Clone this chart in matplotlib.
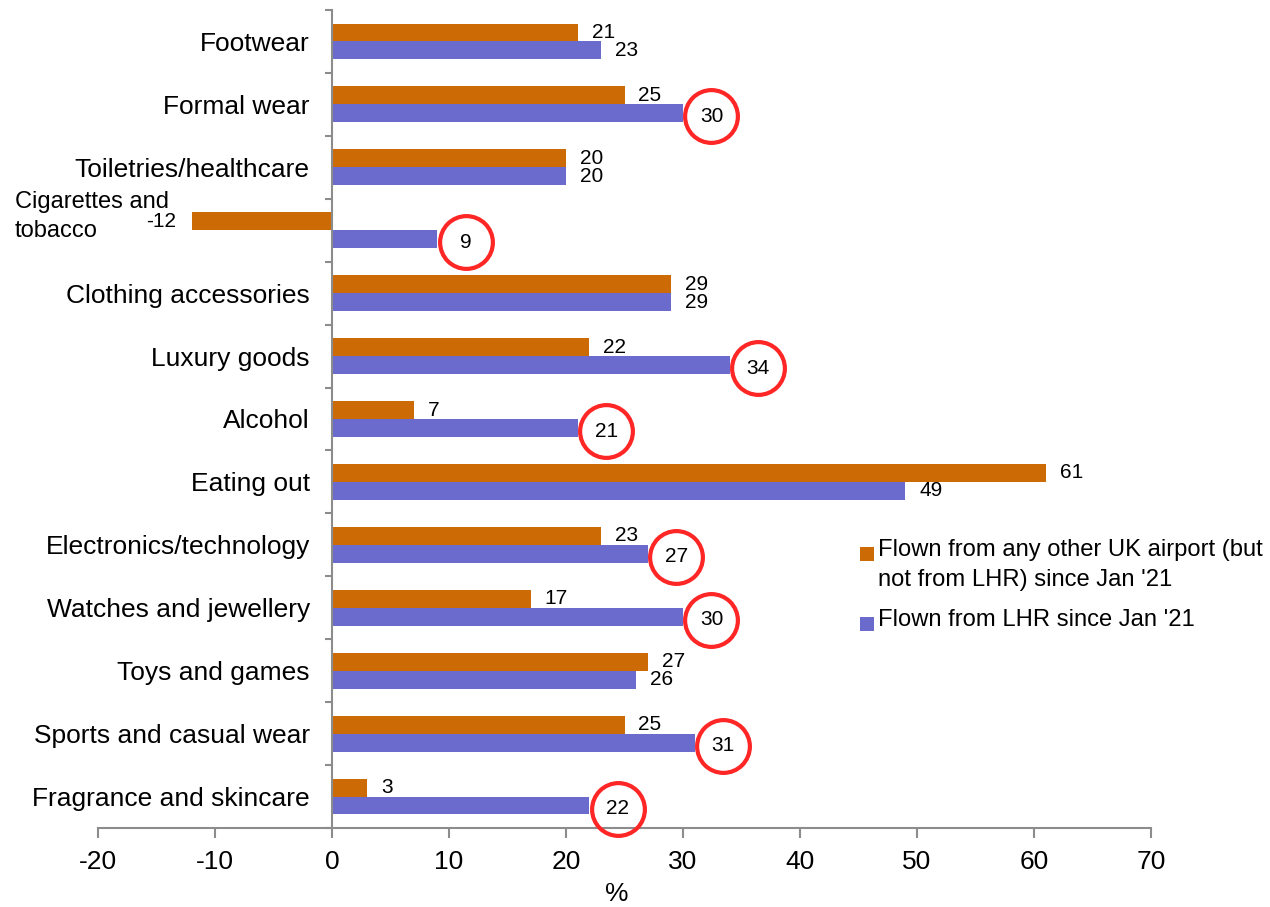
import matplotlib.pyplot as plt
import matplotlib.transforms as mtransforms
from matplotlib.patches import Rectangle
import numpy as np

plt.rcParams['font.family'] = ['Liberation Sans', 'DejaVu Sans']

################################################## Data
categories = [
    "Footwear",
    "Formal wear",
    "Toiletries/healthcare",
    "Cigarettes and\ntobacco",
    "Clothing accessories",
    "Luxury goods",
    "Alcohol",
    "Eating out",
    "Electronics/technology",
    "Watches and jewellery",
    "Toys and games",
    "Sports and casual wear",
    "Fragrance and skincare",
]
other_uk = [21, 25, 20, -12, 29, 22, 7, 61, 23, 17, 27, 25, 3]
lhr = [23, 30, 20, 9, 29, 34, 21, 49, 27, 30, 26, 31, 22]
# LHR values highlighted with a red circle
circled = [False, True, False, True, False, True, True, False, True, True, False, True, True]

label_other = "Flown from any other UK airport (but\nnot from LHR) since Jan '21"
label_lhr = "Flown from LHR since Jan '21"

x_ticks = [-20, -10, 0, 10, 20, 30, 40, 50, 60, 70]

################################################## Style
orange = "#CC6A06"
purple = "#6B6BCD"
red = "#FF2626"
grey = "#8C8C8C"
bar_h = 0.285
val_size = 15

fig = plt.figure(figsize=(12.7, 9.07), dpi=100)
ax = fig.add_axes([0.0772, 0.0871, 0.8291, 0.9019])

y = np.arange(len(categories))
ax.barh(y - bar_h / 2, other_uk, height=bar_h, color=orange, label=label_other)
ax.barh(y + bar_h / 2, lhr, height=bar_h, color=purple, label=label_lhr)

ax.set_xlim(-20, 70)
ax.set_ylim(len(categories) - 0.5, -0.5)

# Data labels
for i, v in enumerate(other_uk):
    if v < 0:
        ax.annotate(str(v), (v, i - bar_h / 2), xytext=(-11, 0), textcoords="offset points",
                    ha="right", va="center", fontsize=val_size)
    else:
        ax.annotate(str(v), (v, i - bar_h / 2), xytext=(10, 0), textcoords="offset points",
                    ha="left", va="center", fontsize=val_size)

shift = mtransforms.ScaledTranslation(20.5 / 72, 0, fig.dpi_scale_trans)
for i, v in enumerate(lhr):
    if circled[i]:
        ax.plot([v], [i + bar_h / 2 + 0.05], marker="o", markersize=38,
                markerfacecolor="none", markeredgecolor=red, markeredgewidth=3.0,
                transform=ax.transData + shift, clip_on=False, zorder=5)
        ax.annotate(str(v), (v, i + bar_h / 2 + 0.05), xytext=(20.5, 0), textcoords="offset points",
                    ha="center", va="center", fontsize=val_size, zorder=6)
    else:
        ax.annotate(str(v), (v, i + bar_h / 2), xytext=(10, 0), textcoords="offset points",
                    ha="left", va="center", fontsize=val_size)

# Axes styling
for s in ["top", "right"]:
    ax.spines[s].set_visible(False)
ax.spines["left"].set_position(("data", 0))
ax.spines["left"].set_color(grey)
ax.spines["bottom"].set_color(grey)
ax.spines["left"].set_linewidth(1.5)
ax.spines["bottom"].set_linewidth(1.5)

ax.set_xticks(x_ticks)
ax.set_xticklabels([str(t) for t in x_ticks])
ax.tick_params(axis="x", length=7, width=1.5, color=grey, labelsize=19, pad=9)

tick_labels = [c if "\n" not in c else "" for c in categories]
ax.set_yticks(y)
ax.set_yticklabels(tick_labels)
ax.set_yticks(np.arange(len(categories) + 1) - 0.5, minor=True)
ax.tick_params(axis="y", which="major", length=0, labelsize=19, pad=16)
ax.tick_params(axis="y", which="minor", length=5, width=1.5, color=grey)

# Wrapped category label, left aligned, one text per line
trans = mtransforms.blended_transform_factory(fig.transFigure, ax.transData)
wrapped_lines = categories[3].split("\n")
for k, line in enumerate(wrapped_lines):
    ax.text(15 / 1270, 3 - 0.45 + k * 0.47, line, transform=trans, ha="left", va="center",
            fontsize=17)

ax.set_xlabel("%", fontsize=19)
ax.xaxis.set_label_coords(0.493, -0.066)

# Legend drawn by hand so the marker sits on the first line
legend_items = [(orange, label_other, 554), (purple, label_lhr, 624)]
for color, text, ypx in legend_items:
    yf = 1 - ypx / 907
    fig.patches.append(Rectangle((860 / 1270, yf - 7 / 907), 14 / 1270, 14 / 907,
                                 transform=fig.transFigure, facecolor=color, edgecolor="none"))
    fig.text(878 / 1270, yf + 15 / 907, text, ha="left", va="top", fontsize=17.1, linespacing=1.45)

plt.savefig("out.png", dpi=100)
